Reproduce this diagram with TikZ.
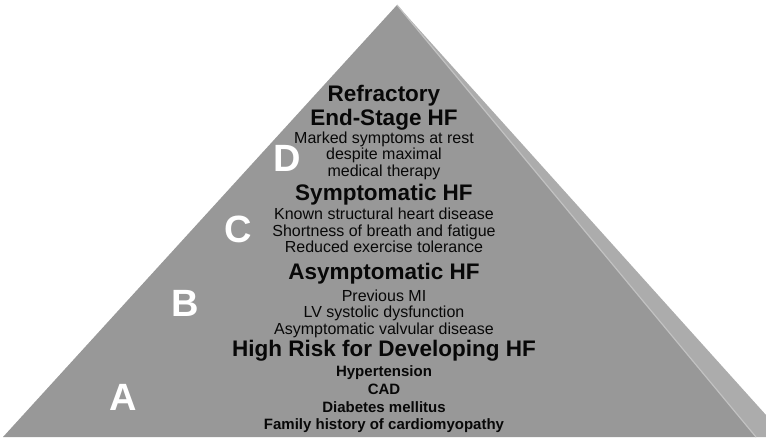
\documentclass[tikz,border=0pt]{standalone}
\usepackage{fontspec}
\setmainfont{Liberation Sans}
\definecolor{frontColor}{RGB}{152,152,152}
\definecolor{sideColor}{RGB}{172,172,172}
\definecolor{ridgeColor}{RGB}{194,194,194}
\definecolor{textColor}{RGB}{8,8,8}

\begin{document}
\begin{tikzpicture}[
    x=1pt, y=1pt,
    stage/.style={font=\fontsize{22.5}{24}\selectfont\bfseries, text=textColor, anchor=base, inner sep=0pt},  % Stage headings
    sign/.style={font=\fontsize{16}{18}\selectfont, text=textColor, anchor=base, inner sep=0pt},
    risk/.style={sign, font=\fontsize{15}{17}\selectfont\bfseries},
    letter/.style={font=\fontsize{38}{40}\selectfont\bfseries, text=white, inner sep=0pt}
]

\useasboundingbox (0,0) rectangle (766,440);

% Pyramid corners
\coordinate (apex) at (397,435);
\coordinate (baseL) at (3,3);
\coordinate (baseR) at (756,3);
\coordinate (sideR) at (766,25);
\coordinate (sideB) at (766,3);

% Side face, front face and ridge
\fill[sideColor] (apex) -- (sideR) -- (sideB) -- (baseR) -- cycle;
\fill[frontColor] (apex) -- (baseL) -- (baseR) -- cycle;
\draw[ridgeColor, line width=1.2pt] (apex) -- (baseR);

% Stage D
\node[stage] (titleD1) at (384,338) {Refractory};
\node[stage] (titleD2) at (384,314) {End-Stage HF};
\foreach \i/\y/\t in {1/296/Marked symptoms at rest, 2/280/despite maximal, 3/264/medical therapy} {
    \node[sign] (lineD\i) at (384,\y) {\t};
}

% Stage C
\node[stage] (titleC) at (384,240) {Symptomatic HF};
\foreach \i/\y/\t in {1/221/Known structural heart disease, 2/204/Shortness of breath and fatigue, 3/188/Reduced exercise tolerance} {
    \node[sign] (lineC\i) at (384,\y) {\t};
}

% Stage B
\node[stage] (titleB) at (384,161) {Asymptomatic HF};
\foreach \i/\y/\t in {1/139/Previous MI, 2/123/LV systolic dysfunction, 3/106/Asymptomatic valvular disease} {
    \node[sign] (lineB\i) at (384,\y) {\t};
}

% Stage A
\node[stage] (titleA) at (384,84) {High Risk for Developing HF};
\foreach \i/\y/\t in {1/64/Hypertension, 2/46/CAD, 3/28/Diabetes mellitus, 4/11/Family history of cardiomyopathy} {
    \node[risk] (lineA\i) at (384,\y) {\t};
}

% Stage letters
\node[letter] (letterD) at (287,282) {D};
\node[letter] (letterC) at (238,211) {C};
\node[letter] (letterB) at (185,137) {B};
\node[letter] (letterA) at (123,43) {A};

\end{tikzpicture}
\end{document}
